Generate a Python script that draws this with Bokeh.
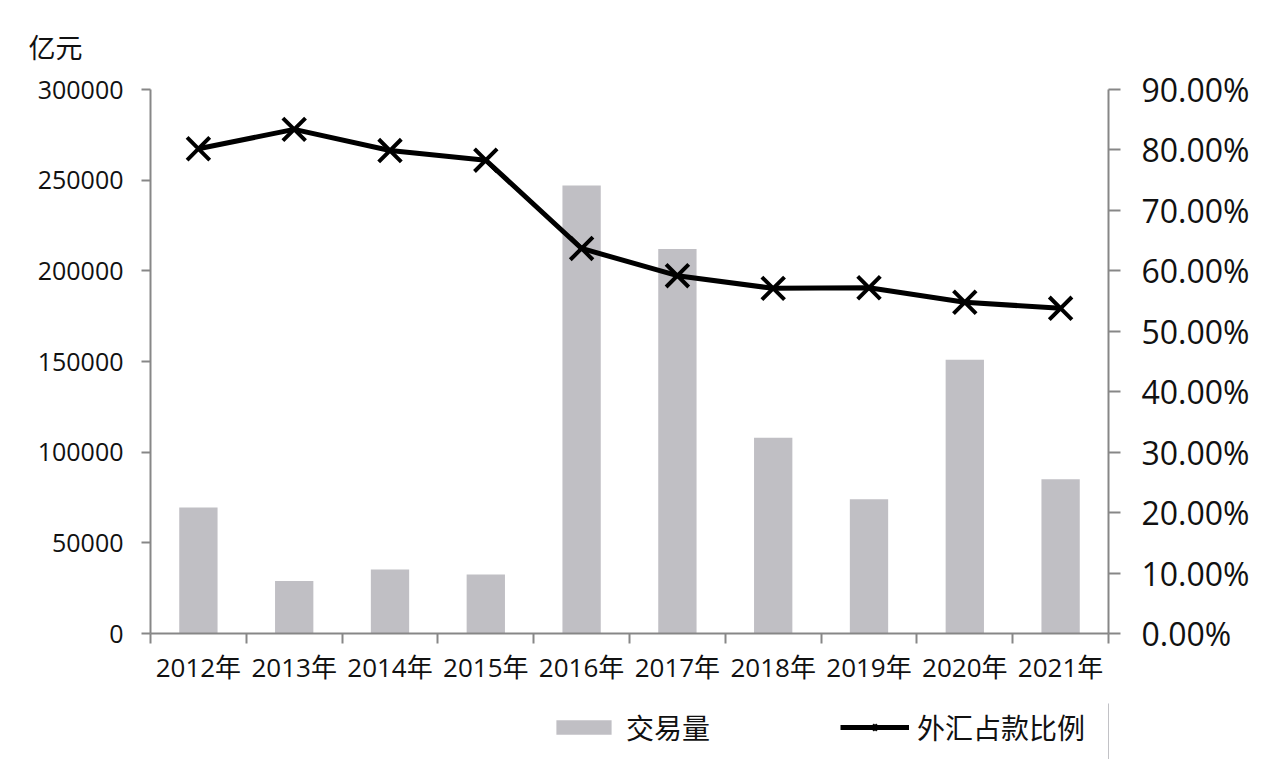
from bokeh.plotting import figure
from bokeh.layouts import column
from bokeh.models import (Range1d, LinearAxis, FixedTicker,
                          NumeralTickFormatter, Legend, LegendItem)
from bokeh.embed import file_html
from bokeh.resources import INLINE

years = ["2012年", "2013年", "2014年", "2015年", "2016年", "2017年", "2018年", "2019年", "2020年", "2021年"]
volume = [69500, 29000, 35300, 32500, 247000, 212000, 108000, 74000, 151000, 85000]
fx_ratio = [0.802, 0.834, 0.799, 0.783, 0.637, 0.592, 0.571, 0.572, 0.548, 0.538]
left_ticks = [0, 50000, 100000, 150000, 200000, 250000, 300000]
right_ticks = [0.0, 0.1, 0.2, 0.3, 0.4, 0.5, 0.6, 0.7, 0.8, 0.9]
unit_label = "亿元"
bar_name = "交易量"
line_name = "外汇占款比例"

NUM_FONT = "Open Sans, Noto Sans CJK SC"
CJK_FONT = "Noto Sans CJK SC"
AXIS_COLOR = "#878787"
BAR_COLOR = "#c0bfc4"

n = len(years)
xpos = [i + 0.5 for i in range(n)]          # category centres
bounds = list(range(n + 1))                 # category boundaries

p = figure(frame_width=958, frame_height=544, output_backend="svg", toolbar_location=None,
           x_range=Range1d(0, n), y_range=Range1d(0, 300000),
           min_border_left=150, min_border_right=156, min_border_top=89, min_border_bottom=70,
           x_axis_location=None, y_axis_location=None)
p.xgrid.visible = False
p.ygrid.visible = False
p.outline_line_color = None
p.background_fill_color = "white"
p.border_fill_color = "white"

p.title.text = unit_label
p.title.align = "left"
p.title.offset = -122
p.title.standoff = 47
p.title.text_font = CJK_FONT
p.title.text_font_size = "27px"
p.title.text_font_style = "normal"
p.title.text_color = "#111111"

p.extra_y_ranges = {"pct": Range1d(0, 0.9)}

# left axis
ly = LinearAxis(ticker=FixedTicker(ticks=left_ticks), formatter=NumeralTickFormatter(format="0"))
ly.axis_line_color = AXIS_COLOR
ly.axis_line_width = 2
ly.major_tick_line_color = AXIS_COLOR
ly.major_tick_line_width = 2
ly.major_tick_in = 0
ly.major_tick_out = 9
ly.minor_tick_line_color = None
ly.major_label_standoff = 18
ly.major_label_text_font = NUM_FONT
ly.major_label_text_font_size = "25px"
ly.major_label_text_color = "#111111"
p.add_layout(ly, "left")

# right axis
ry = LinearAxis(y_range_name="pct", ticker=FixedTicker(ticks=right_ticks),
                formatter=NumeralTickFormatter(format="0.00%"))
ry.axis_line_color = AXIS_COLOR
ry.axis_line_width = 2
ry.major_tick_line_color = AXIS_COLOR
ry.major_tick_line_width = 2
ry.major_tick_in = 0
ry.major_tick_out = 12
ry.minor_tick_line_color = None
ry.major_label_standoff = 21
ry.major_label_text_font = NUM_FONT
ry.major_label_text_font_size = "32px"
ry.major_label_text_color = "#111111"
p.add_layout(ry, "right")

# bottom axis: labels at category centres, minor ticks at category boundaries
cx = LinearAxis(ticker=FixedTicker(ticks=xpos, minor_ticks=bounds),
                major_label_overrides={x: y for x, y in zip(xpos, years)})
cx.axis_line_color = AXIS_COLOR
cx.axis_line_width = 2
cx.major_tick_line_color = None
cx.minor_tick_line_color = AXIS_COLOR
cx.minor_tick_line_width = 2
cx.minor_tick_in = 0
cx.minor_tick_out = 10
cx.major_label_standoff = 5
cx.major_label_text_font = NUM_FONT
cx.major_label_text_font_size = "26px"
cx.major_label_text_color = "#111111"
p.add_layout(cx, "below")

p.vbar(x=xpos, top=volume, width=0.4, fill_color=BAR_COLOR, line_color=None)
p.line(x=xpos, y=fx_ratio, y_range_name="pct", line_color="black", line_width=5)
p.scatter(x=xpos, y=fx_ratio, y_range_name="pct", marker="x", size=32,
          line_color="black", line_width=4)

# legend strip below the chart (same glyph styles, data kept outside its visible range)
lg = figure(width=1264, height=56, output_backend="svg", toolbar_location=None,
            x_range=Range1d(-30, -20), y_range=Range1d(0, 1),
            min_border=0, x_axis_location=None, y_axis_location=None)
lg.xgrid.visible = False
lg.ygrid.visible = False
lg.outline_line_color = None
lg.background_fill_color = "white"
lg.border_fill_color = "white"
b2 = lg.vbar(x=xpos, top=volume, width=0.4, fill_color=BAR_COLOR, line_color=None)
l2 = lg.line(x=xpos, y=fx_ratio, line_color="black", line_width=5)
m2 = lg.scatter(x=xpos, y=fx_ratio, marker="x", size=32, line_color="black", line_width=4)

legend = Legend(items=[LegendItem(label=bar_name, renderers=[b2]),
                       LegendItem(label=line_name, renderers=[l2, m2])],
                location=(399, 12), orientation="horizontal",
                glyph_width=69, glyph_height=18, label_standoff=8, spacing=130,
                padding=0, margin=0, border_line_color=None, background_fill_alpha=0,
                label_text_font=CJK_FONT, label_text_font_size="28px",
                label_text_color="#111111")
lg.add_layout(legend, "center")

open("out.html", "w").write(file_html(column(p, lg), INLINE))
